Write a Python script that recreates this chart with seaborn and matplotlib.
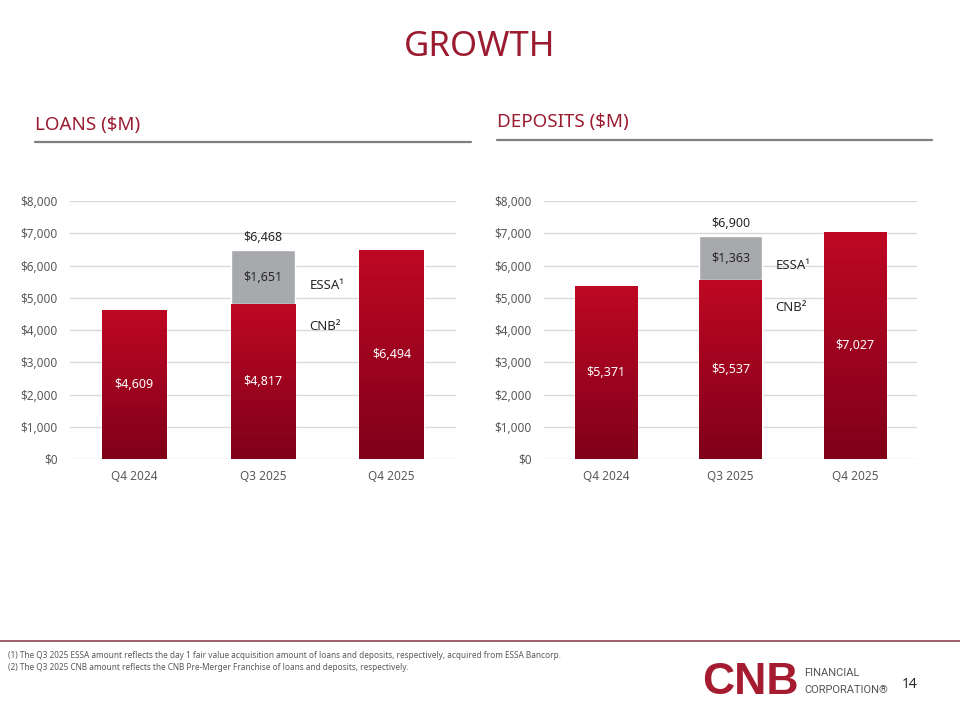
import numpy as np
import pandas as pd
import seaborn as sns
import matplotlib.pyplot as plt
from matplotlib.colors import LinearSegmentedColormap

# data
quarters = ["Q4 2024", "Q3 2025", "Q4 2025"]
loans_cnb = [4609, 4817, 6494]
loans_essa = [0, 1651, 0]
deposits_cnb = [5371, 5537, 7027]
deposits_essa = [0, 1363, 0]
y_ticks = [0, 1000, 2000, 3000, 4000, 5000, 6000, 7000, 8000]

footnotes = [
    "(1) The Q3 2025 ESSA amount reflects the day 1 fair value acquisition amount of loans and deposits, respectively, acquired from ESSA Bancorp.",
    "(2) The Q3 2025 CNB amount reflects the CNB Pre-Merger Franchise of loans and deposits, respectively.",
]

sns.set_theme(style="white")
plt.rcParams['font.family'] = ['Noto Sans', 'DejaVu Sans']

TITLE_RED = "#9B1B30"
GRAY_TXT = "#595959"
ESSA_GRAY = "#A7A9AC"
red_grad = LinearSegmentedColormap.from_list("redgrad", ["#80001A", "#BE0823"])


def money(v):
    return "${:,.0f}".format(v)


def draw_panel(ax, cnb, essa):
    df = pd.DataFrame({"quarter": quarters,
                       "total": np.array(cnb) + np.array(essa),
                       "cnb": cnb})
    sns.barplot(data=df, x="quarter", y="total", color=ESSA_GRAY, width=0.5,
                saturation=1, ax=ax, zorder=2)
    n_gray = len(ax.patches)
    sns.barplot(data=df, x="quarter", y="cnb", color="#B00A22", width=0.5,
                saturation=1, ax=ax, zorder=3)
    red_patches = ax.patches[n_gray:]

    ax.set_xlim(-0.5, 2.5)
    ax.set_ylim(0, 8000)

    # vertical gradient in each red bar
    grad = np.linspace(0, 1, 256).reshape(-1, 1)
    for p in red_patches:
        x0, y0 = p.get_x(), p.get_y()
        w, h = p.get_width(), p.get_height()
        im = ax.imshow(grad, cmap=red_grad, origin="lower", aspect="auto",
                       extent=[x0, x0 + w, y0, y0 + h], zorder=3.5)
        im.set_clip_path(p)

    for i, (c, e) in enumerate(zip(cnb, essa)):
        ax.text(i, c / 2, money(c), ha="center", va="center", color="white",
                fontsize=9, zorder=5)
        if e > 0:
            ax.text(i, c + e / 2, money(e), ha="center", va="center",
                    color="#262626", fontsize=9, zorder=5)
            ax.text(i, c + e + 200, money(c + e), ha="center", va="bottom",
                    color="#262626", fontsize=9, zorder=5)
            ax.text(i + 0.36, c + e * 0.35, "ESSA\u00b9", ha="left", va="center",
                    color="#262626", fontsize=9.5, zorder=5)
            ax.text(i + 0.36, c * 0.85, "CNB\u00b2", ha="left", va="center",
                    color="#262626", fontsize=9.5, zorder=5)

    ax.set_yticks(y_ticks)
    ax.set_yticklabels([money(t) for t in y_ticks])
    ax.yaxis.grid(True, color="#D9D9D9", linewidth=1)
    ax.set_axisbelow(True)
    ax.tick_params(axis="both", length=0, labelsize=8.5, colors=GRAY_TXT)
    ax.tick_params(axis="y", pad=9)
    ax.tick_params(axis="x", pad=8)
    ax.set_xlabel("")
    ax.set_ylabel("")
    sns.despine(ax=ax, left=True, bottom=True)


fig = plt.figure(figsize=(9.6, 7.2), dpi=100)
ax_l = fig.add_axes([0.0729, 0.3625, 0.402, 0.3583])
ax_r = fig.add_axes([0.5667, 0.3625, 0.3885, 0.3583])
draw_panel(ax_l, loans_cnb, loans_essa)
draw_panel(ax_r, deposits_cnb, deposits_essa)

# title and section headers
fig.text(0.5, 1 - 47 / 720, "GROWTH", ha="center", va="center",
         color=TITLE_RED, fontsize=25)
fig.text(35 / 960, 1 - 125 / 720, "LOANS ($M)", ha="left", va="center",
         color=TITLE_RED, fontsize=13.5)
fig.text(497 / 960, 1 - 122 / 720, "DEPOSITS ($M)", ha="left", va="center",
         color=TITLE_RED, fontsize=13.5)
fig.add_artist(plt.Line2D([35 / 960, 471 / 960], [1 - 142 / 720] * 2,
                          color="#7F7F7F", linewidth=1.6))
fig.add_artist(plt.Line2D([497 / 960, 932 / 960], [1 - 140 / 720] * 2,
                          color="#7F7F7F", linewidth=1.6))

# footer
fig.add_artist(plt.Line2D([0, 1], [1 - 641 / 720] * 2, color="#8E4452",
                          linewidth=1.2))
fig.text(8 / 960, 1 - 656 / 720, footnotes[0], ha="left", va="center",
         color=GRAY_TXT, fontsize=5.95)
fig.text(8 / 960, 1 - 668 / 720, footnotes[1], ha="left", va="center",
         color=GRAY_TXT, fontsize=5.95)

# logo
fig.text(702 / 960, 1 - 682 / 720, "CNB", ha="left", va="center",
         color="#A51C30", fontsize=32, fontweight="bold",
         family="Liberation Sans")
fig.text(804 / 960, 1 - 673 / 720, "FINANCIAL", ha="left", va="center",
         color="#555555", fontsize=8, family="Roboto")
fig.text(804 / 960, 1 - 690 / 720, "CORPORATION\u00ae", ha="left", va="center",
         color="#555555", fontsize=8, family="Roboto")
fig.text(910 / 960, 1 - 685 / 720, "14", ha="center", va="center",
         color="#262626", fontsize=10)

fig.savefig("out.png", dpi=100)
